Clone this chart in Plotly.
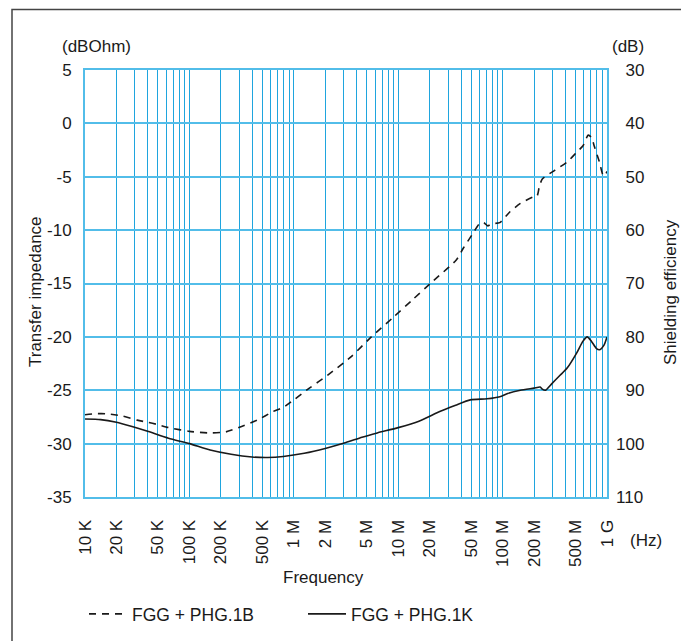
import plotly.graph_objs as go

# frequency (Hz) and transfer impedance (dBOhm)
freq_1b = [10000, 12600, 15800, 22400, 31600, 39800, 49000, 63100, 100000, 158000,
           224000, 316000, 447000, 631000, 794000, 1.0e6, 1.41e6, 2.1e6, 3.5e6, 5.4e6,
           8.9e6, 1.38e7, 2.14e7, 3.6e7, 4.2e7, 5.2e7, 6.0e7, 6.6e7, 7.2e7, 7.9e7,
           9.4e7, 1.17e8, 1.48e8, 1.95e8, 2.14e8, 2.24e8, 2.4e8, 3.16e8, 4.17e8, 5.13e8,
           5.89e8, 6.6e8, 7.08e8, 7.59e8, 8.51e8, 9.12e8, 9.55e8, 1.0e9]
imp_1b = [-27.3, -27.2, -27.2, -27.4, -27.8, -28.0, -28.2, -28.5, -28.85, -29.0,
          -28.9, -28.4, -27.8, -27.0, -26.6, -25.9, -24.8, -23.6, -21.9, -20.1,
          -18.2, -16.5, -14.8, -12.8, -11.7, -10.3, -9.4, -9.3, -9.6, -9.4,
          -9.3, -8.3, -7.5, -6.9, -6.8, -6.0, -5.2, -4.4, -3.6, -2.7,
          -2.1, -1.1, -1.3, -2.2, -3.7, -4.8, -4.9, -4.5]

freq_1k = [10000, 14100, 20000, 28200, 39800, 63100, 100000, 158000, 251000, 398000,
           562000, 794000, 1.26e6, 2.0e6, 3.16e6, 4.5e6, 6.3e6, 1.0e7, 1.58e7, 2.5e7,
           3.55e7, 4.9e7, 7.1e7, 9.4e7, 1.12e8, 1.48e8, 2.0e8, 2.29e8, 2.4e8, 2.57e8,
           2.95e8, 3.55e8, 4.17e8, 5.13e8, 5.89e8, 6.46e8, 7.08e8, 7.94e8, 8.51e8, 9.33e8,
           1.0e9]
imp_1k = [-27.7, -27.75, -28.0, -28.4, -28.85, -29.5, -30.0, -30.6, -31.0, -31.25,
          -31.3, -31.2, -30.9, -30.45, -29.9, -29.4, -29.0, -28.5, -27.9, -27.0,
          -26.4, -25.9, -25.8, -25.6, -25.3, -25.0, -24.8, -24.7, -24.9, -25.0,
          -24.4, -23.6, -22.9, -21.5, -20.4, -20.0, -20.4, -21.1, -21.2, -20.8,
          -20.0]

labelled = {1e4: '10 K', 2e4: '20 K', 5e4: '50 K', 1e5: '100 K', 2e5: '200 K', 5e5: '500 K',
            1e6: '1 M', 2e6: '2 M', 5e6: '5 M', 1e7: '10 M', 2e7: '20 M', 5e7: '50 M',
            1e8: '100 M', 2e8: '200 M', 5e8: '500 M', 1e9: '1 G'}
left_ticks = [5, 0, -5, -10, -15, -20, -25, -30, -35]
right_ticks = [30, 40, 50, 60, 70, 80, 90, 100, 110]

xt = []
for dec in [1e4, 1e5, 1e6, 1e7, 1e8]:
    for m in range(1, 10):
        xt.append(dec * m)
xt.append(1e9)
xtext = [labelled.get(v, '') for v in xt]

FONT = 'Liberation Sans, Arial, sans-serif'
L, R, T, B = 85, 607, 70, 497
W, H = 681, 641


def px(x):
    return (x - L) / (R - L)


def py(y):
    return (B - y) / (B - T)


fig = go.Figure()
fig.add_trace(go.Scatter(x=freq_1b, y=imp_1b, mode='lines', name='FGG + PHG.1B',
                         line=dict(color='#1a1a1a', width=1.6, dash='7px,6px',
                                   shape='spline', smoothing=0.6)))
fig.add_trace(go.Scatter(x=freq_1k, y=imp_1k, mode='lines', name='FGG + PHG.1K',
                         line=dict(color='#1a1a1a', width=1.6, shape='spline', smoothing=0.6)))
fig.add_trace(go.Scatter(x=[1e4], y=[30], yaxis='y2', mode='markers', marker=dict(opacity=0),
                         showlegend=False, hoverinfo='skip'))

fig.update_layout(
    width=W, height=H,
    margin=dict(l=L, r=W - R, t=T, b=H - B, autoexpand=False),
    paper_bgcolor='white', plot_bgcolor='white',
    font=dict(family=FONT, size=17, color='#1a1a1a'),
    xaxis=dict(type='log', range=[4, 9], tickvals=xt, ticktext=xtext, tickangle=-90,
               showgrid=True, gridcolor='#1fa5de', gridwidth=1.2, ticks='',
               ticklabelstandoff=14, showline=True, mirror=True, automargin=False,
               linecolor='#52bde9', linewidth=2, zeroline=False),
    yaxis=dict(range=[-35, 5], tickvals=left_ticks, ticktext=[str(v) for v in left_ticks],
               showgrid=True, gridcolor='#52bde9', automargin=False,
               gridwidth=2.2, ticks='', ticklabelstandoff=8, zeroline=False,
               showline=True, mirror=True, linecolor='#52bde9', linewidth=2),
    yaxis2=dict(range=[110, 30], overlaying='y', side='right', tickvals=right_ticks,
                ticktext=[('\u2007' + str(v)) if v < 100 else str(v) for v in right_ticks],
                showgrid=False, ticks='', ticklabelstandoff=8, zeroline=False,
                automargin=False),
    showlegend=True,
    legend=dict(orientation='h', xref='container', yref='container',
                x=84 / W, y=1 - 614 / H, xanchor='left', yanchor='middle',
                font=dict(size=17.5), itemwidth=38, entrywidth=166,
                bgcolor='rgba(0,0,0,0)'),
)

notes = [
    ('(dBOhm)', 96, 47, 0),
    ('(dB)', 628, 47, 0),
    ('(Hz)', 646, 540, 0),
    ('Frequency', 323, 577, 0),
    ('Transfer impedance', 35, 292, -90),
    ('Shielding efficiency', 670, 292, -90),
]
for txt, x, y, ang in notes:
    fig.add_annotation(text=txt, x=px(x), y=py(y), xref='paper', yref='paper',
                       showarrow=False, textangle=ang, xanchor='center', yanchor='middle',
                       font=dict(size=17))

# outer frame, cut off by the page on the right and bottom
fig.add_shape(type='rect', xref='paper', yref='paper', x0=px(12), y0=py(720),
              x1=px(720), y1=py(9.5), line=dict(color='#444444', width=1.5))

fig.write_html("out.html", config={'displayModeBar': False},
               post_script="document.body.style.margin='0';")
